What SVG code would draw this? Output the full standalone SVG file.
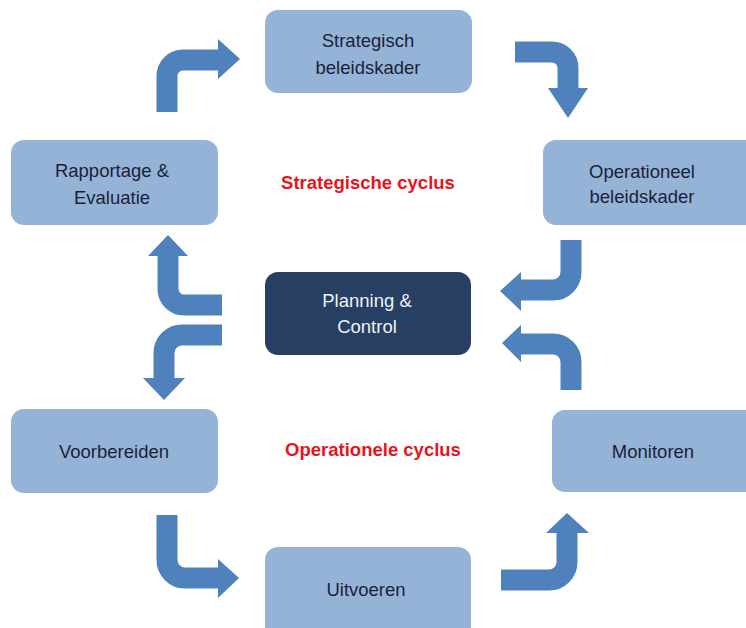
<svg xmlns="http://www.w3.org/2000/svg" width="746" height="628" viewBox="0 0 746 628">
<style>
.box{fill:#95b3d7;}
.dark{fill:#263f63;}
.t{font-family:"Liberation Sans","Noto Sans",Arial,sans-serif;font-size:18.5px;fill:#1a1f3a;text-anchor:middle;}
.tw{fill:#eef2f8;}
.red{font-family:"Liberation Sans",Arial,sans-serif;font-size:18.5px;font-weight:bold;fill:#e8131b;text-anchor:middle;}
.shaft{fill:none;stroke:#4f81bd;stroke-width:21;}
.head{fill:#4f81bd;}
</style>
<rect width="746" height="628" fill="#ffffff"/>
<g id="connectors">
<path class="shaft" d="M167,112 V76 A16,16 0 0 1 183,60 H220"/>
<polygon class="head" points="218,39 240,59 218,79"/>
<path class="shaft" d="M515,52 H552 A16,16 0 0 1 568,68 V90"/>
<polygon class="head" points="548,88 588,88 568,118"/>
<path class="shaft" d="M222,305 H184 A16,16 0 0 1 168,289 V254"/>
<polygon class="head" points="148,256 188,256 168,235"/>
<path class="shaft" d="M222,335 H182 A18,18 0 0 0 164,353 V380"/>
<polygon class="head" points="143,378 185,378 164,400"/>
<path class="shaft" d="M571,240 V272 A18,18 0 0 1 553,290 H518"/>
<polygon class="head" points="521,272 521,311 500,291"/>
<path class="shaft" d="M571,390 V362 A18,18 0 0 0 553,344 H518"/>
<polygon class="head" points="521,325 521,362 502,343"/>
<path class="shaft" d="M167,515 V560 A18,18 0 0 0 185,578 H219"/>
<polygon class="head" points="218,559 218,598 239,578"/>
<path class="shaft" d="M501,580 H549 A18,18 0 0 0 567,562 V531"/>
<polygon class="head" points="546,533 589,533 567,513"/>
</g>
<g id="strategisch">
<rect class="box" x="265" y="10" width="207" height="83" rx="13"/>
<text class="t" x="368" y="47">Strategisch</text>
<text class="t" x="368" y="74">beleidskader</text>
</g>
<g id="rapportage">
<rect class="box" x="11" y="140" width="207" height="85" rx="13"/>
<text class="t" x="112" y="177">Rapportage &amp;</text>
<text class="t" x="112" y="204">Evaluatie</text>
</g>
<g id="operationeel">
<rect class="box" x="543" y="140" width="215" height="85" rx="13"/>
<text class="t" x="642" y="178">Operationeel</text>
<text class="t" x="642" y="203">beleidskader</text>
</g>
<g id="planning">
<rect class="dark" x="265" y="272" width="206" height="83" rx="13"/>
<text class="t tw" x="367" y="307">Planning &amp;</text>
<text class="t tw" x="367" y="333">Control</text>
</g>
<g id="voorbereiden">
<rect class="box" x="11" y="409" width="207" height="84" rx="13"/>
<text class="t" x="114" y="458">Voorbereiden</text>
</g>
<g id="monitoren">
<rect class="box" x="552" y="410" width="206" height="82" rx="13"/>
<text class="t" x="653" y="458">Monitoren</text>
</g>
<g id="uitvoeren">
<rect class="box" x="265" y="547" width="206" height="95" rx="13"/>
<text class="t" x="366" y="596">Uitvoeren</text>
</g>
<g id="labels">
<text class="red" x="368" y="189">Strategische cyclus</text>
<text class="red" x="373" y="456">Operationele cyclus</text>
</g>
</svg>
